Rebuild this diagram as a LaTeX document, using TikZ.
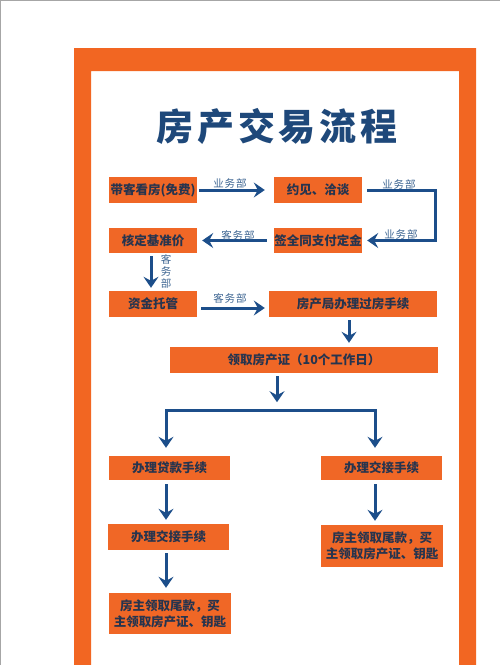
\documentclass[tikz,border=0pt]{standalone}
\usepackage{fontspec}
\setmainfont{Noto Sans CJK SC}
\usetikzlibrary{arrows.meta,positioning}
\definecolor{frameorange}{RGB}{242,102,34}
\definecolor{boxorange}{RGB}{240,103,38}
\definecolor{flowblue}{RGB}{28,78,138}
\definecolor{textnavy}{RGB}{38,52,78}
\definecolor{titleblue}{RGB}{30,72,122}
\definecolor{deptblue}{RGB}{60,100,145}
\tikzset{
  stepbox/.style={fill=boxorange, text=textnavy, font=\bfseries\fontsize{12.5}{16}\selectfont, inner sep=0pt, minimum height=26pt},
  flow/.style={->, draw=flowblue, line width=3pt},
  dept/.style={text=deptblue, font=\fontsize{10.5}{12}\selectfont\addfontfeature{LetterSpace=8}, inner sep=0pt},
}
\begin{document}
\begin{tikzpicture}[x=1pt, y=-1pt, >={Stealth[length=11pt,width=15pt,inset=4pt]}]
	\useasboundingbox (0,0) rectangle (500,665);
	\draw[gray!70, line width=1.5pt] (0,665) -- (0,0) -- (500,0);
	\fill[frameorange, even odd rule] (74,48) rectangle (476,665) (91,71) rectangle (459,665);
	\node[text=titleblue, font=\bfseries\fontsize{37}{40}\selectfont\addfontfeature{LetterSpace=10}] (title) at (277,126) {房产交易流程};

	\node[stepbox, minimum width=88pt] (tour) at (153,190) {带客看房(免费)};
	\node[stepbox, minimum width=88pt] (meet) at (318,190) {约见、洽谈};
	\node[stepbox, minimum width=88pt, minimum height=25pt] (sign) at (318,240.5) {签全同支付定金};
	\node[stepbox, minimum width=88pt, minimum height=25pt] (check) at (153,240.5) {核定基准价};
	\node[stepbox, minimum width=88pt] (fund) at (153,304) {资金托管};
	\node[stepbox, minimum width=168pt] (bureau) at (353,304) {房产局办理过房手续};
	\node[stepbox, minimum width=268pt] (cert) at (304,360) {领取房产证（10个工作日）};
	\node[stepbox, minimum width=121pt, minimum height=24pt] (loan) at (169.5,468) {办理贷款手续};
	\node[stepbox, minimum width=121pt, minimum height=24pt] (handR) at (381.5,468) {办理交接手续};
	\node[stepbox, minimum width=121pt] (handL) at (168.5,537) {办理交接手续};
	\node[stepbox, minimum width=122pt, minimum height=41pt, align=center] (payL) at (170,613.5) {房主领取尾款，买\\主领取房产证、钥匙};
	\node[stepbox, minimum width=122pt, minimum height=42pt, align=center] (payR) at (382,546) {房主领取尾款，买\\主领取房产证、钥匙};

	% arrows
	\draw[flow, shorten <=2pt, shorten >=9pt] (tour) -- (meet);
	\draw[flow] ([xshift=5pt]meet.east) -- ++(68,0) |- ([xshift=5pt]sign.east);
	\draw[flow, shorten <=7pt, shorten >=5pt] (sign) -- (check);
	\draw[flow, shorten <=3pt, shorten >=3pt] ([xshift=-2pt]check.south) -- ([xshift=-2pt]fund.north);
	\draw[flow, shorten <=4pt, shorten >=4pt] ([yshift=-4pt]fund.east) -- ([yshift=-4pt]fund.east -| bureau.west);
	\draw[flow, shorten <=3pt, shorten >=4pt] ([xshift=-4pt]bureau.south) -- ([xshift=-4pt]bureau.south |- cert.north);
	\draw[flow, shorten <=3pt] ([xshift=-27pt]cert.south) -- ++(0,29);
	\coordinate (forkL) at (166,410);
	\coordinate (forkR) at (375,410);
	\draw[flow, <->, shorten <=8pt, shorten >=8pt] (forkL |- loan.north) -- (forkL) -- (forkR) -- (forkR |- handR.north);
	\draw[flow, shorten <=4pt, shorten >=4pt] ([xshift=-3.5pt]loan.south) -- ([xshift=-3.5pt]loan.south |- handL.north);
	\draw[flow, shorten <=3pt, shorten >=5pt] ([xshift=-2.5pt]handL.south) -- ([xshift=-2.5pt]handL.south |- payL.north);
	\draw[flow, shorten <=4pt, shorten >=4pt] ([xshift=-6.5pt]handR.south) -- ([xshift=-6.5pt]handR.south |- payR.north);

	% department labels
	\node[dept] (d1) at (230,183) {业务部};
	\node[dept] (d2) at (399,184) {业务部};
	\node[dept] (d3) at (401,234) {业务部};
	\node[dept] (d4) at (238,235) {客务部};
	\node[dept, align=center] (d5) at (166,271) {客\\务\\部};
	\node[dept] (d6) at (230,298) {客务部};
\end{tikzpicture}
\end{document}
